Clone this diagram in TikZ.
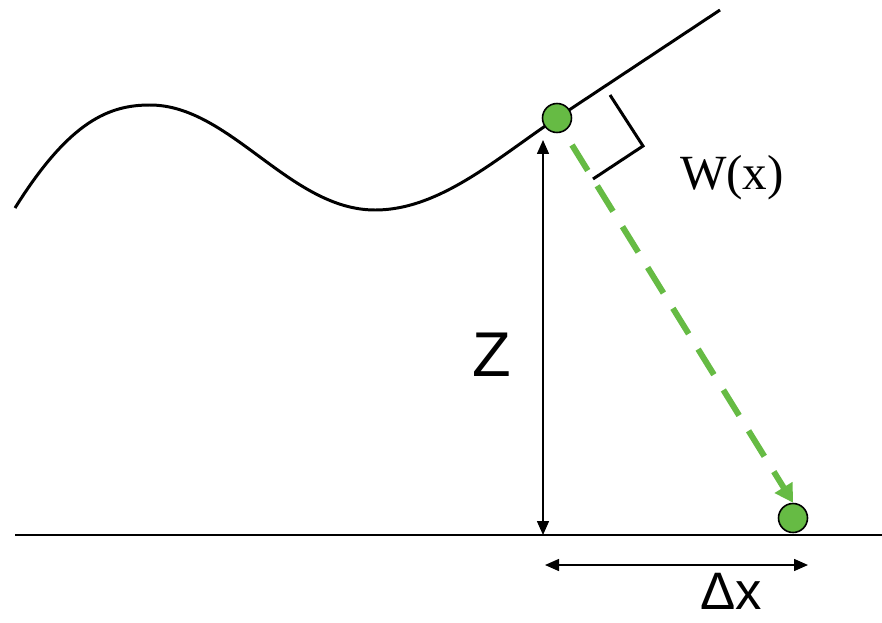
\documentclass[tikz,border=0pt]{standalone}
\usepackage{fontspec}
\setmainfont{Liberation Serif}
\setsansfont{Liberation Sans}
\usetikzlibrary{arrows.meta}

\definecolor{ptgreen}{RGB}{102,187,68}

\begin{document}
\begin{tikzpicture}[
    x=0.02cm, y=-0.02cm,
    >={Triangle[length=0.28cm, width=0.24cm]},
    surface/.style={line width=1.7pt, black},
    ground/.style={line width=1.1pt, black},
    dimarrow/.style={<->, line width=0.85pt, black},
    point/.style={circle, draw=black, line width=0.9pt, fill=ptgreen, minimum size=0.58cm, inner sep=0pt},
    shiftarrow/.style={->, ptgreen, line width=3.4pt, dash pattern=on 0.6cm off 0.36cm,
        >={Triangle[length=0.36cm, width=0.4cm]}},
    serlabel/.style={font=\rmfamily\fontsize{28}{30}\selectfont},
    sanslabel/.style={font=\sffamily\fontsize{30}{32}\selectfont, inner sep=1pt},
]
\useasboundingbox (0,0) rectangle (882,622);

% ---- Surface and ground ----
\draw[surface] (15,208) .. controls (70,120) and (110,105) .. (150,105)
    .. controls (230,105) and (290,210) .. (375,210)
    .. controls (440,210) and (497,158) .. (557,118) -- (720,10);
\draw[ground] (15,535) -- (882,535);

% ---- Points ----
\node[point] (src) at (557,118) {};
\node[point] (dst) at (793,518) {};

% ---- Right angle mark ----
\draw[line width=1.7pt] (610,95) -- (643,146) -- (593,179);

% ---- Height and shift ----
\coordinate (ztop) at (543,140);
\coordinate (zbot) at (543,535);
\draw[dimarrow] (ztop) -- (zbot);
\node[sanslabel, font=\sffamily\fontsize{36}{38}\selectfont] (zlabel) at (492,355) {Z};

\coordinate (dxleft) at (545,565);
\coordinate (dxright) at (808,565);
\draw[dimarrow] (dxleft) -- (dxright);
\node[sanslabel] (dxlabel) at (731,591) {Δx};

\coordinate (shiftstart) at (572,145);
\draw[shiftarrow] (shiftstart) -- (dst.north);

\node[serlabel] (wlabel) at (732,178) {W(x)};

\end{tikzpicture}
\end{document}
